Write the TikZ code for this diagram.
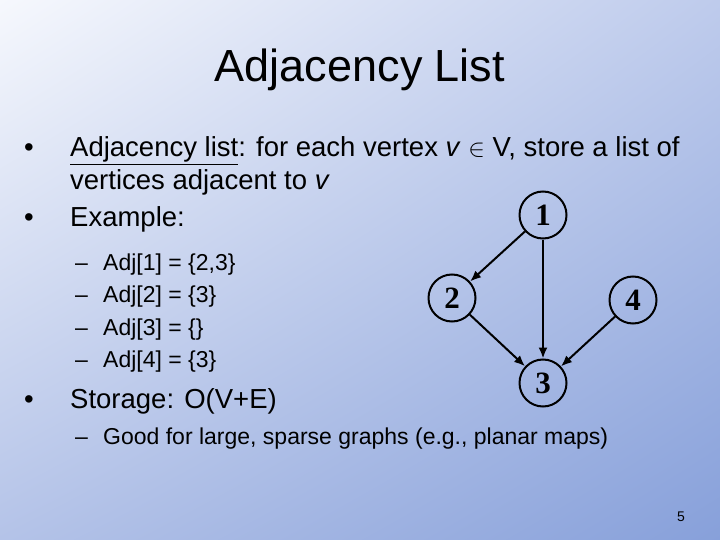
\documentclass[tikz,border=0pt]{standalone}
\usepackage{fontspec}
\usetikzlibrary{shadings,arrows.meta}
\setmainfont{Liberation Sans}
\newfontfamily\serifb{Liberation Serif}
\definecolor{ul}{RGB}{246,248,253}
\definecolor{ur}{RGB}{190,203,236}
\definecolor{ll}{RGB}{180,195,232}
\definecolor{lr}{RGB}{135,160,218}
\begin{document}
\begin{tikzpicture}[x=1pt,y=-1pt,
  txt/.style={anchor=base west,inner sep=0pt,font=\fontsize{27.5}{32}\selectfont},
  sub/.style={anchor=base west,inner sep=0pt,font=\fontsize{23}{27}\selectfont},
  vtx/.style={circle,draw,line width=2pt,minimum size=47pt,inner sep=0pt,font=\serifb\bfseries\fontsize{31}{34}\selectfont},
  arr/.style={-{Latex[length=11pt,width=9pt]},line width=2pt}]
\shade[upper left=ul,upper right=ur,lower left=ll,lower right=lr] (0,0) rectangle (720,540);
\useasboundingbox (0,0) rectangle (720,540);
\node[anchor=base,inner sep=0pt,font=\fontsize{45}{52}\selectfont] (title) at (360,82) {Adjacency List};
\node[txt] (b1) at (24,157) {•};
\node[txt] (l1) at (70,157) {\underline{Adjacency list}: for each vertex \textit{v} $\in$ V, store a list of};
\node[txt] (l2) at (70,190) {vertices adjacent to \textit{v}};
\node[txt] (b2) at (24,226) {•};
\node[txt] (l3) at (70,226) {Example:};
\foreach \y/\t [count=\i] in {270/{Adj[1] = \{2,3\}},302/{Adj[2] = \{3\}},335/{Adj[3] = \{\}},367/{Adj[4] = \{3\}}}{
  \node[sub] (d\i) at (75,\y) {–};
  \node[sub] (a\i) at (103,\y) {\t};
}
\node[txt] (b3) at (24,408) {•};
\node[txt] (l4) at (70,408) {Storage: O(V+E)};
\node[sub] (d5) at (75,444) {–};
\node[sub] (l5) at (103,444) {Good for large, sparse graphs (e.g., planar maps)};
\node[anchor=base,inner sep=0pt,font=\fontsize{14}{16}\selectfont] (pg) at (681,521) {5};
\node[vtx] (n1) at (543,215) {1};
\node[vtx] (n2) at (452,298) {2};
\node[vtx] (n4) at (633,300) {4};
\node[vtx] (n3) at (543,383) {3};
\draw[arr] (n1) -- (n2);
\draw[arr] (n1) -- (n3);
\draw[arr] (n2) -- (n3);
\draw[arr] (n4) -- (n3);
\end{tikzpicture}
\end{document}
